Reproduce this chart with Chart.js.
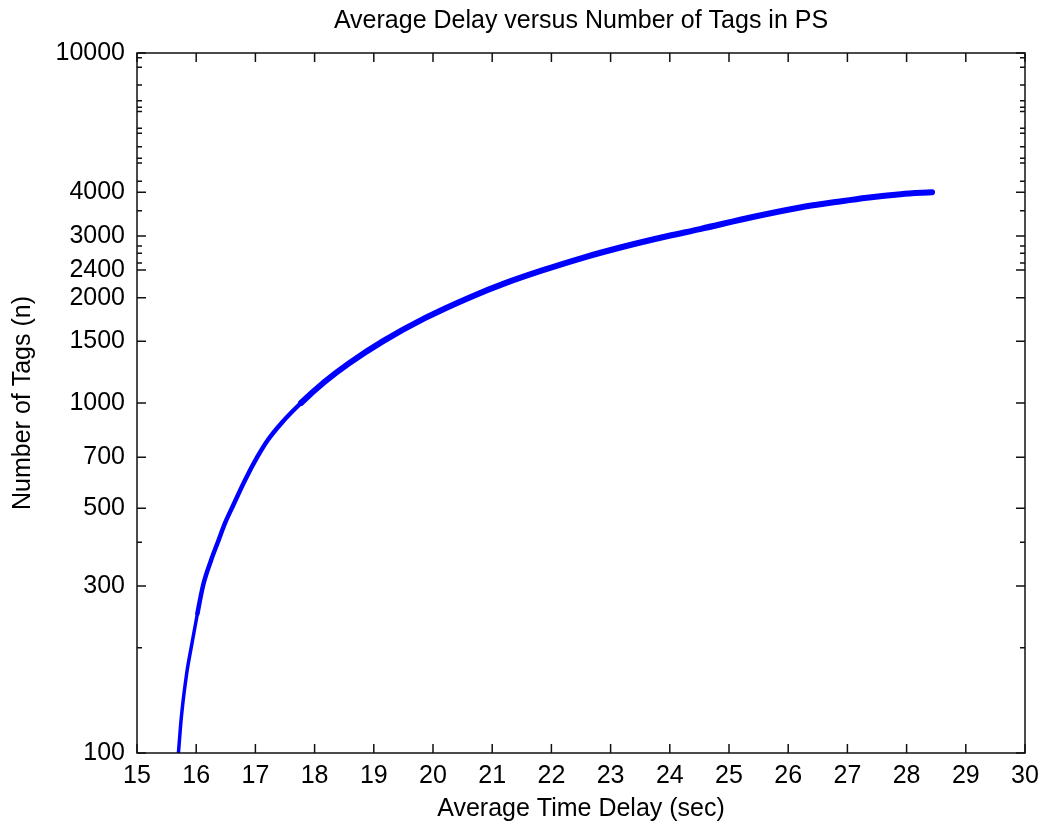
<!DOCTYPE html>
<html>
<head>
<meta charset="utf-8">
<script src="https://cdn.jsdelivr.net/npm/chart.js@4/dist/chart.umd.min.js"></script>
<style>
  html, body { margin: 0; padding: 0; background: #fff; }
  #wrap { width: 1041px; height: 828px; }
</style>
</head>
<body>
<div id="wrap"><canvas id="delayChart" width="1041" height="828"></canvas></div>
<script>
// values
const delaySec = [15.70, 15.75, 15.84, 15.92, 16.02, 16.12, 16.25, 16.37, 16.49, 16.62, 16.82, 17.03,
    17.21, 17.45, 17.77, 18.17, 18.58, 19.15, 19.87, 20.61, 21.22, 21.87, 22.53, 23.23,
    23.97, 24.51, 25.40, 26.20, 26.80, 27.33, 27.90, 28.43];
const tagCount = [100, 127, 169, 202, 250, 303, 355, 402, 455, 508, 600, 700,
    784, 880, 1000, 1150, 1298, 1500, 1750, 2000, 2200, 2400, 2600, 2800,
    3000, 3140, 3400, 3620, 3750, 3860, 3950, 4000];

const xTicks = [15, 16, 17, 18, 19, 20, 21, 22, 23, 24, 25, 26, 27, 28, 29, 30];
const yTicks = [100, 300, 500, 700, 1000, 1500, 2000, 2400, 3000, 4000, 10000];
const yMinorTicks = [200, 400, 2510, 2680, 2810, 3540, 4300, 4850, 5000, 5400, 5900, 6100,
    6800, 7000, 7300, 8100, 9100, 9700];

const FONT = "'Liberation Sans', Arial, Helvetica, sans-serif";

// MATLAB style box with inward tick marks on all four sides
const frameTicks = {
    id: "frameTicks",
    afterDraw(chart) {
        const { ctx, chartArea: a, scales: { x, y } } = chart;
        ctx.save();
        ctx.strokeStyle = "#111";
        ctx.lineWidth = 1.5;
        ctx.strokeRect(a.left, a.top, a.right - a.left, a.bottom - a.top);
        ctx.beginPath();
        xTicks.forEach((v) => {
            const px = x.getPixelForValue(v);
            ctx.moveTo(px, a.bottom);
            ctx.lineTo(px, a.bottom - 9);
            ctx.moveTo(px, a.top);
            ctx.lineTo(px, a.top + 9);
        });
        const yTick = (v, len) => {
            const py = y.getPixelForValue(v);
            ctx.moveTo(a.left, py);
            ctx.lineTo(a.left + len, py);
            ctx.moveTo(a.right, py);
            ctx.lineTo(a.right - len, py);
        };
        yTicks.forEach((v) => yTick(v, 9));
        yMinorTicks.forEach((v) => yTick(v, 5));
        ctx.stroke();
        ctx.restore();
    },
};

const points = delaySec.map((d, i) => ({ x: d, y: tagCount[i] }));

new Chart(document.getElementById("delayChart"), {
    type: "line",
    data: {
        datasets: [{
            data: points,
            borderColor: "#0000ff",
            borderWidth: 5,
            borderCapStyle: "round",
            borderJoinStyle: "round",
            pointRadius: 0,
            cubicInterpolationMode: "monotone",
            segment: {
                borderWidth: (c) => (c.p0.parsed.y < 250 ? 3.5 : c.p0.parsed.y < 1000 ? 4.5 : 6),
            },
        }],
    },
    options: {
        responsive: false,
        devicePixelRatio: 1,
        animation: false,
        layout: { padding: { left: 0, right: 16, top: 0, bottom: 0 } },
        plugins: {
            legend: { display: false },
            tooltip: { enabled: false },
            title: {
                display: true,
                text: "Average Delay versus Number of Tags in PS",
                color: "#000",
                fullSize: false,
                font: { family: FONT, size: 25, weight: "normal", lineHeight: 1.2 },
                padding: { top: 6, bottom: 17 },
            },
        },
        scales: {
            x: {
                type: "linear",
                min: 15,
                max: 30,
                afterBuildTicks: (scale) => { scale.ticks = xTicks.map((v) => ({ value: v })); },
                afterFit: (scale) => {
                    scale.height = 75;
                    scale.paddingLeft = 0;
                    scale.paddingRight = 0;
                },
                grid: { display: false, drawTicks: false },
                border: { display: false },
                ticks: { color: "#000", padding: 8, font: { family: FONT, size: 25 } },
                title: {
                    display: true,
                    text: "Average Time Delay (sec)",
                    color: "#000",
                    font: { family: FONT, size: 25, lineHeight: 1.2 },
                    padding: { top: 0, bottom: 4 },
                },
            },
            y: {
                type: "logarithmic",
                min: 100,
                max: 10000,
                afterBuildTicks: (scale) => { scale.ticks = yTicks.map((v) => ({ value: v })); },
                afterFit: (scale) => { scale.width = 137; },
                grid: { display: false, drawTicks: false },
                border: { display: false },
                ticks: {
                    color: "#000",
                    padding: 12,
                    font: { family: FONT, size: 25 },
                    callback: (v) => String(v),
                },
                title: {
                    display: true,
                    text: "Number of Tags (n)",
                    color: "#000",
                    font: { family: FONT, size: 25, lineHeight: 1.2 },
                    padding: { top: 8, bottom: 0 },
                },
            },
        },
    },
    plugins: [frameTicks],
});
</script>
</body>
</html>
